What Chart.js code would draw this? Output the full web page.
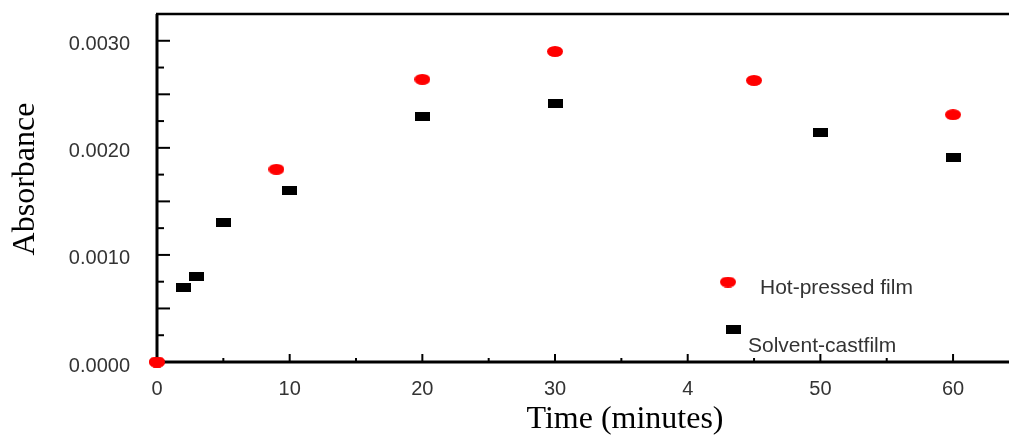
<!DOCTYPE html>
<html>
<head>
<meta charset="utf-8">
<script src="https://cdn.jsdelivr.net/npm/chart.js@4.4.1/dist/chart.umd.min.js"></script>
<style>
  html, body { margin: 0; padding: 0; background: #fff; overflow: hidden; }
  #wrap { width: 1009px; height: 437px; position: relative; }
</style>
</head>
<body>
<div id="wrap"><canvas id="chart"></canvas></div>
<script>
// --- data ---
const hotTime = [0, 9, 20, 30, 45, 60];
const hotAbs = [0, 0.0018, 0.00264, 0.0029, 0.00263, 0.00231];
const castTime = [2, 3, 5, 10, 20, 30, 50, 60];
const castAbs = [0.0007, 0.0008, 0.0013, 0.0016, 0.00229, 0.00241, 0.00214, 0.00191];

// axis ticks (the "4" under 40 is how the original reads)
const xTickValues = [0, 10, 20, 30, 40, 50, 60];
const xTickLabels = ['0', '10', '20', '30', '4', '50', '60'];
const yTickValues = [0, 0.001, 0.002, 0.003];
const yTickLabels = ['0.0000', '0.0010', '0.0020', '0.0030'];

// inward tick marks
const xMajorMarks = [10, 20, 30, 40, 50, 60];
const xMinorMarks = [5, 15, 25, 35, 45, 55];
const yMajorMarks = [0.0005, 0.001, 0.0015, 0.002, 0.0025, 0.003];
const yMinorMarks = [0.00025, 0.00075, 0.00125, 0.00175, 0.00225, 0.00275];

const seriesNames = ['Hot-pressed film', 'Solvent-castfilm'];

// marker images (ellipse and flat rectangle)
function makeEllipse(w, h, color) {
  const c = document.createElement('canvas');
  c.width = w; c.height = h;
  const g = c.getContext('2d');
  g.fillStyle = color;
  g.beginPath();
  g.ellipse(w / 2, h / 2, w / 2, h / 2, 0, 0, Math.PI * 2);
  g.fill();
  return c;
}
function makeRect(w, h, color) {
  const c = document.createElement('canvas');
  c.width = w; c.height = h;
  const g = c.getContext('2d');
  g.fillStyle = color;
  g.fillRect(0, 0, w, h);
  return c;
}
const redDot = makeEllipse(16, 11, '#ff0000');
const blackBox = makeRect(15, 9, '#000000');

const SANS = '"Liberation Sans", Arial, sans-serif';
const SERIF = '"Liberation Serif", "Times New Roman", serif';

// axis frame, inward ticks, titles and the free-floating legend
const framePlugin = {
  id: 'frame',
  afterDatasetsDraw(chart) {
    const { ctx, chartArea: a, scales: { x, y } } = chart;
    ctx.save();
    ctx.strokeStyle = '#000';
    ctx.lineCap = 'butt';

    ctx.lineWidth = 2;
    xMajorMarks.forEach(v => {
      const px = x.getPixelForValue(v);
      ctx.beginPath(); ctx.moveTo(px, a.bottom); ctx.lineTo(px, a.bottom - 8); ctx.stroke();
    });
    xMinorMarks.forEach(v => {
      const px = x.getPixelForValue(v);
      ctx.beginPath(); ctx.moveTo(px, a.bottom); ctx.lineTo(px, a.bottom - 4); ctx.stroke();
    });
    yMajorMarks.forEach(v => {
      const py = y.getPixelForValue(v);
      ctx.beginPath(); ctx.moveTo(a.left, py); ctx.lineTo(a.left + 13, py); ctx.stroke();
    });
    yMinorMarks.forEach(v => {
      const py = y.getPixelForValue(v);
      ctx.beginPath(); ctx.moveTo(a.left, py); ctx.lineTo(a.left + 7, py); ctx.stroke();
    });

    // frame runs out to the canvas edge like the original
    ctx.lineWidth = 2.5;
    ctx.beginPath(); ctx.moveTo(a.left - 1, a.top); ctx.lineTo(chart.width, a.top); ctx.stroke();
    ctx.lineWidth = 3;
    ctx.beginPath(); ctx.moveTo(a.left, a.top); ctx.lineTo(a.left, a.bottom); ctx.stroke();
    ctx.beginPath(); ctx.moveTo(a.left, a.bottom); ctx.lineTo(chart.width, a.bottom); ctx.stroke();

    // redraw the origin point on top of the axes
    const m0 = chart.getDatasetMeta(0).data[0];
    if (m0) ctx.drawImage(redDot, m0.x - redDot.width / 2, m0.y - redDot.height / 2);

    // axis titles
    ctx.fillStyle = '#000';
    ctx.font = '32px ' + SERIF;
    ctx.textAlign = 'center';
    ctx.textBaseline = 'alphabetic';
    ctx.fillText('Time (minutes)', 625, 428);
    ctx.save();
    ctx.translate(34, 179);
    ctx.rotate(-Math.PI / 2);
    ctx.fillText('Absorbance', 0, 0);
    ctx.restore();

    // legend
    ctx.drawImage(redDot, 728 - redDot.width / 2, 282 - redDot.height / 2);
    ctx.drawImage(blackBox, 733 - blackBox.width / 2, 329 - blackBox.height / 2);
    ctx.fillStyle = '#333';
    ctx.font = '21px ' + SANS;
    ctx.textAlign = 'left';
    ctx.fillText(seriesNames[0], 760, 294);
    ctx.fillText(seriesNames[1], 748, 352);
    ctx.restore();
  }
};

new Chart(document.getElementById('chart'), {
  type: 'scatter',
  data: {
    datasets: [
      {
        label: seriesNames[0],
        data: hotTime.map((t, i) => ({ x: t, y: hotAbs[i] })),
        pointStyle: redDot,
        clip: false,
        order: 0
      },
      {
        label: seriesNames[1],
        data: castTime.map((t, i) => ({ x: t, y: castAbs[i] })),
        pointStyle: blackBox,
        clip: false,
        order: 1
      }
    ]
  },
  options: {
    responsive: true,
    maintainAspectRatio: false,
    animation: false,
    devicePixelRatio: 1,
    layout: { padding: { top: 14, left: 0, right: 0, bottom: 0 } },
    plugins: { legend: { display: false }, tooltip: { enabled: false } },
    scales: {
      x: {
        type: 'linear',
        min: 0,
        max: 63.84,   // chart area ends at 1004px, so 60 lands at 953px
        grid: { display: false, drawTicks: false },
        border: { display: false },
        afterBuildTicks: s => { s.ticks = xTickValues.map(v => ({ value: v })); },
        afterFit: s => { s.height = 75; s.paddingLeft = 0; s.paddingRight = 0; },
        ticks: {
          autoSkip: false,
          maxRotation: 0,
          padding: 15,
          color: '#333',
          font: { family: SANS, size: 20 },
          callback: (v, i) => xTickLabels[i]
        }
      },
      y: {
        min: 0,
        max: 0.00325,
        grid: { display: false, drawTicks: false },
        border: { display: false },
        afterBuildTicks: s => { s.ticks = yTickValues.map(v => ({ value: v })); },
        afterFit: s => { s.width = 157; s.paddingTop = 0; s.paddingBottom = 0; },
        ticks: {
          autoSkip: false,
          padding: 27,
          labelOffset: 4,
          color: '#333',
          font: { family: SANS, size: 20 },
          callback: (v, i) => yTickLabels[i]
        }
      }
    }
  },
  plugins: [framePlugin]
});
</script>
</body>
</html>
